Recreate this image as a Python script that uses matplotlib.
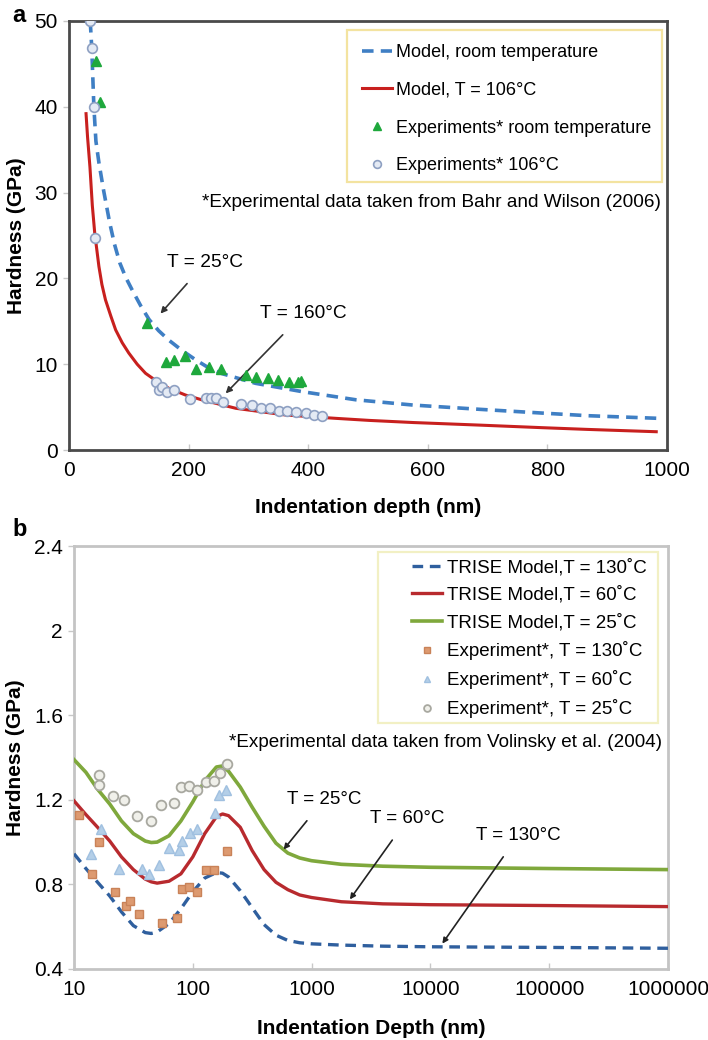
import matplotlib
matplotlib.use("Agg")
import matplotlib.pyplot as plt
from matplotlib.patches import Rectangle

plt.rcParams['font.family'] = ['Liberation Sans', 'DejaVu Sans']

# ---------------- Panel a data ----------------
a_blue_x = [35.5, 38, 41.6, 45, 50, 58, 68, 76, 85, 95, 106, 120, 134, 150, 167, 189, 212, 233, 256, 312,
            390, 480, 575, 687, 792, 867, 982]
a_blue_y = [50, 46.9, 40, 36, 33.5, 30.2, 26.5, 24.0, 21.8, 20.1, 18.6, 16.8, 15.2, 13.9, 12.8, 11.6, 10.5, 9.6,
            8.9, 7.77, 6.8, 5.85, 5.24, 4.74, 4.3, 4.0, 3.7]
a_red_x = [28.5, 31, 35, 39, 43, 50, 55, 61, 70, 78, 89, 100, 114, 128, 145, 167, 195, 223, 279, 362, 446,
           502, 576, 687, 792, 867, 982]
a_red_y = [39.2, 36.5, 33.0, 28.5, 25.3, 21.4, 19.3, 17.5, 15.6, 14.0, 12.5, 11.3, 10.0, 8.94, 8.1, 7.19, 6.4,
           5.83, 4.86, 4.08, 3.69, 3.45, 3.2, 2.9, 2.6, 2.4, 2.13]
a_tri_x = [44.6, 51.4, 131, 162.8, 175.6, 194, 213, 234, 254.7, 295.4, 313, 333, 350, 368, 383.5, 388]
a_tri_y = [45.3, 40.6, 14.8, 10.3, 10.5, 10.9, 9.44, 9.7, 9.4, 8.74, 8.54, 8.35, 8.16, 7.96, 7.96, 8.0]
a_circ_x = [35.5, 38, 41.6, 44, 146, 150.5, 155, 164, 175.6, 203, 228.5, 237, 245, 257.5, 287, 305.5,
            320.5, 336, 352, 365, 379, 397, 410, 423.6]
a_circ_y = [50, 46.9, 40, 24.7, 7.96, 7.0, 7.4, 6.8, 7.0, 6.0, 6.06, 6.06, 6.06, 5.63, 5.36, 5.24,
            4.86, 4.86, 4.55, 4.5, 4.45, 4.27, 4.1, 3.96]
a_xticks = [0, 200, 400, 600, 800, 1000]
a_yticks = [0, 10, 20, 30, 40, 50]

# ---------------- Panel b data ----------------
b_model_x = [10, 12.6, 15.8, 20, 25.1, 31.6, 39.8, 44.7, 50.1, 63.1, 79.4, 100, 126, 158, 178, 200, 251,
             316, 398, 501, 631, 794, 1000, 1780, 3980, 10000, 100000, 1000000]
b_green_y = [1.39, 1.33, 1.25, 1.18, 1.10, 1.04, 1.005, 0.998, 1.0, 1.03, 1.10, 1.19, 1.29, 1.355, 1.36,
             1.335, 1.26, 1.165, 1.075, 0.995, 0.948, 0.925, 0.912, 0.895, 0.886, 0.881, 0.875, 0.87]
b_red_y = [1.195, 1.13, 1.07, 1.005, 0.93, 0.87, 0.825, 0.812, 0.806, 0.815, 0.85, 0.93, 1.04, 1.12, 1.133,
           1.125, 1.07, 0.96, 0.87, 0.81, 0.775, 0.75, 0.738, 0.718, 0.708, 0.704, 0.70, 0.695]
b_blue_y = [0.945, 0.875, 0.81, 0.745, 0.67, 0.605, 0.572, 0.568, 0.575, 0.615, 0.685, 0.765, 0.83, 0.856,
            0.853, 0.835, 0.77, 0.69, 0.61, 0.56, 0.535, 0.524, 0.519, 0.513, 0.508, 0.505, 0.502, 0.498]
b_sq_x = [11, 14.3, 16.2, 22, 27.2, 29.6, 35.2, 55.5, 74, 81.7, 93, 109, 128, 151, 193]
b_sq_y = [1.13, 0.847, 1.0, 0.765, 0.698, 0.721, 0.658, 0.616, 0.64, 0.776, 0.787, 0.765, 0.866, 0.866, 0.96]
b_tri_x = [13.8, 16.8, 23.9, 37.6, 42.8, 51.9, 63, 76.6, 81.7, 94.6, 109, 153, 166, 189]
b_tri_y = [0.942, 1.06, 0.875, 0.871, 0.847, 0.891, 0.973, 0.965, 1.004, 1.043, 1.06, 1.138, 1.225, 1.248]
b_circ_x = [16.2, 16.2, 21.4, 26.4, 34.1, 44.8, 54.3, 69.5, 80, 93, 109, 130, 151, 168, 193]
b_circ_y = [1.316, 1.272, 1.217, 1.20, 1.122, 1.102, 1.177, 1.185, 1.259, 1.264, 1.248, 1.284, 1.29, 1.327, 1.37]
b_xticks = [10, 100, 1000, 10000, 100000, 1000000]
b_xticklabels = ['10', '100', '1000', '10000', '100000', '1000000']
b_yticks = [0.4, 0.8, 1.2, 1.6, 2.0, 2.4]
b_yticklabels = ['0.4', '0.8', '1.2', '1.6', '2', '2.4']

W, H = 708, 1040
fig = plt.figure(figsize=(W / 100, H / 100), dpi=100)


def ax_rect(l, t, r, b):
    return [l / W, 1 - b / H, (r - l) / W, (b - t) / H]


def frame_box(ax, l, t, r, b, color):
    ax.add_patch(Rectangle((l / W, 1 - b / H), (r - l) / W, (b - t) / H, transform=fig.transFigure,
                           facecolor='white', edgecolor=color, lw=1.6, zorder=5, clip_on=False))


# ================= Panel a =================
axa = fig.add_axes(ax_rect(69, 21, 667, 450))
axa.plot(a_blue_x, a_blue_y, color='#3f7fc4', lw=2.6, dashes=(3.2, 2.0), label='Model, room temperature', zorder=3)
axa.plot(a_red_x, a_red_y, color='#c8201e', lw=2.2, label='Model, T = 106°C', zorder=3)
axa.plot(a_tri_x, a_tri_y, ls='none', marker='^', ms=7, color='#1ea83c', mec='#1ea83c',
         label='Experiments* room temperature', zorder=4)
axa.plot(a_circ_x, a_circ_y, ls='none', marker='o', ms=7, mfc='#e4eaf4', mec='#8ea0c2', mew=1.2,
         label='Experiments* 106°C', zorder=4)
axa.set_xlim(0, 1000)
axa.set_ylim(0, 50)
axa.set_xticks(a_xticks)
axa.set_yticks(a_yticks)
axa.tick_params(axis='both', labelsize=15, color='#c8c8c8', length=4, width=1)
axa.tick_params(axis='x', direction='in', pad=8)
axa.tick_params(axis='y', direction='out', pad=4)
for s in axa.spines.values():
    s.set_color('#4a4a4a')
    s.set_linewidth(2)
axa.set_xlabel('Indentation depth (nm)', fontsize=15, fontweight='bold', labelpad=13)
axa.set_ylabel('Hardness (GPa)', fontsize=15, fontweight='bold', labelpad=6)
frame_box(axa, 347, 30, 662, 182, '#f3e3a0')
leg = axa.legend(loc='upper left', bbox_to_anchor=(362 / W, 1 - 44 / H), bbox_transform=fig.transFigure,
                 borderaxespad=0, borderpad=0, fontsize=13, frameon=False, labelspacing=1.15,
                 handlelength=1.67, handletextpad=0.22, markerscale=0.8)
leg.set_zorder(6)
axa.text(990, 28.9, '*Experimental data taken from Bahr and Wilson (2006)', fontsize=13.7, ha='right', va='center')
axa.annotate('T = 25°C', xy=(153, 15.9), xytext=(228, 21.8), fontsize=13.8, ha='center', va='center',
             arrowprops=dict(arrowstyle='-|>', color='#333333', lw=1.2, mutation_scale=9, shrinkA=9, shrinkB=0))
axa.annotate('T = 160°C', xy=(262, 6.6), xytext=(392, 15.9), fontsize=13.8, ha='center', va='center',
             arrowprops=dict(arrowstyle='-|>', color='#333333', lw=1.2, mutation_scale=9, shrinkA=10, shrinkB=0))
fig.text(12 / W, 1 - 16 / H, 'a', fontsize=17, fontweight='bold', ha='left', va='center')

# ================= Panel b =================
axb = fig.add_axes(ax_rect(74, 546, 668, 969))
axb.plot(b_model_x, b_blue_y, color='#2f5f9e', lw=2.4, dashes=(3.2, 2.0), label='TRISE Model,T = 130˚C', zorder=3)
axb.plot(b_model_x, b_red_y, color='#b82a2e', lw=2.4, label='TRISE Model,T = 60˚C', zorder=3)
axb.plot(b_model_x, b_green_y, color='#7fa83c', lw=2.6, label='TRISE Model,T = 25˚C', zorder=3)
axb.plot(b_sq_x, b_sq_y, ls='none', marker='s', ms=6, mfc='#dd9a70', mec='#c98258', mew=1,
         label='Experiment*, T = 130˚C', zorder=4)
axb.plot(b_tri_x, b_tri_y, ls='none', marker='^', ms=7, mfc='#b4cfe8', mec='#a0c0e0', mew=1,
         label='Experiment*, T = 60˚C', zorder=4)
axb.plot(b_circ_x, b_circ_y, ls='none', marker='o', ms=7, mfc='#f0f0ea', mec='#a8a8a0', mew=1.3,
         label='Experiment*, T = 25˚C', zorder=4)
axb.set_xscale('log')
axb.set_xlim(10, 1000000)
axb.set_ylim(0.4, 2.4)
axb.set_xticks(b_xticks)
axb.set_xticklabels(b_xticklabels)
axb.minorticks_off()
axb.set_yticks(b_yticks)
axb.set_yticklabels(b_yticklabels)
axb.tick_params(axis='both', labelsize=15, color='#c8c8c8', length=4, width=1)
axb.tick_params(axis='x', direction='in', pad=8)
axb.tick_params(axis='y', direction='out', pad=4)
for s in axb.spines.values():
    s.set_color('#c4c4c4')
    s.set_linewidth(2)
axb.set_xlabel('Indentation Depth (nm)', fontsize=15, fontweight='bold', labelpad=14)
axb.set_ylabel('Hardness (GPa)', fontsize=15, fontweight='bold', labelpad=6)
frame_box(axb, 378, 552, 658, 723, '#f2f0c4')
legb = axb.legend(loc='upper left', bbox_to_anchor=(412 / W, 1 - 559 / H), bbox_transform=fig.transFigure,
                  borderaxespad=0, borderpad=0, fontsize=13.5, frameon=False, labelspacing=0.53,
                  handlelength=1.6, handletextpad=0.27, markerscale=0.7)
legb.set_zorder(6)
axb.text(0.99, 1.47, '*Experimental data taken from Volinsky et al. (2004)', fontsize=13.6, ha='right',
         va='center', transform=axb.get_yaxis_transform())
ann = dict(arrowstyle='-|>', color='#222222', lw=1.2, mutation_scale=8, shrinkA=9, shrinkB=0)
axb.annotate('T = 25°C', xy=(581, 0.965), xytext=(1270, 1.20), fontsize=13.5, ha='center', va='center', arrowprops=ann)
axb.annotate('T = 60°C', xy=(2100, 0.729), xytext=(6430, 1.111), fontsize=13.5, ha='center', va='center', arrowprops=ann)
axb.annotate('T = 130°C', xy=(12600, 0.52), xytext=(55000, 1.032), fontsize=13.5, ha='center', va='center', arrowprops=ann)
fig.text(12 / W, 1 - 530 / H, 'b', fontsize=17, fontweight='bold', ha='left', va='center')

fig.savefig('out.png', dpi=100)
